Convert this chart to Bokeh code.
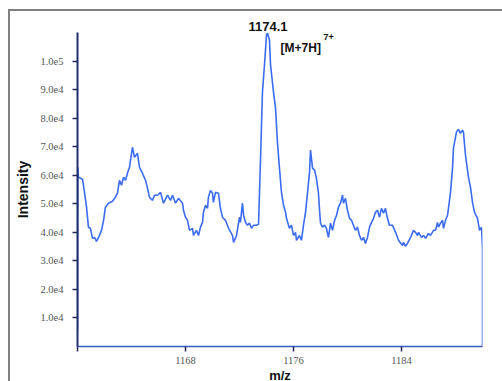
from bokeh.plotting import figure
from bokeh.models import Range1d, FixedTicker, Label
from bokeh.embed import file_html
from bokeh.resources import INLINE

# m/z values and intensities
mz = [1160.00, 1160.02, 1160.07, 1160.37, 1160.52, 1160.67, 1160.81, 1160.96, 1161.11, 1161.26,
      1161.41, 1161.56, 1161.78, 1161.93, 1162.07, 1162.30, 1162.59, 1162.81, 1162.96, 1163.11,
      1163.26, 1163.41, 1163.56, 1163.70, 1163.85, 1164.07, 1164.22, 1164.44, 1164.59, 1164.81,
      1165.04, 1165.19, 1165.33, 1165.56, 1165.70, 1165.93, 1166.15, 1166.37, 1166.67, 1166.89,
      1167.04, 1167.26, 1167.48, 1167.78, 1167.85, 1168.00, 1168.15, 1168.30, 1168.52, 1168.59,
      1168.81, 1168.96, 1169.11, 1169.26, 1169.33, 1169.48, 1169.63, 1169.70, 1169.85, 1170.00,
      1170.07, 1170.22, 1170.44, 1170.59, 1170.74, 1170.96, 1171.19, 1171.48, 1171.56, 1171.78,
      1172.00, 1172.07, 1172.22, 1172.30, 1172.44, 1172.59, 1172.74, 1172.89, 1173.04, 1173.26,
      1173.41, 1173.56, 1173.70, 1173.85, 1174.00, 1174.07, 1174.22, 1174.30, 1174.52, 1174.67,
      1174.81, 1174.96, 1175.11, 1175.26, 1175.41, 1175.48, 1175.70, 1175.85, 1176.00, 1176.15,
      1176.22, 1176.44, 1176.59, 1176.74, 1176.89, 1177.04, 1177.19, 1177.26, 1177.41, 1177.56,
      1177.70, 1177.85, 1177.93, 1178.00, 1178.15, 1178.30, 1178.44, 1178.59, 1178.74, 1178.89,
      1179.04, 1179.19, 1179.33, 1179.48, 1179.63, 1179.70, 1179.85, 1180.00, 1180.15, 1180.30,
      1180.44, 1180.59, 1180.74, 1180.89, 1181.04, 1181.19, 1181.33, 1181.48, 1181.63, 1181.78,
      1181.93, 1182.07, 1182.22, 1182.37, 1182.52, 1182.67, 1182.81, 1182.96, 1183.11, 1183.33,
      1183.56, 1183.78, 1184.07, 1184.15, 1184.30, 1184.44, 1184.67, 1184.89, 1185.04, 1185.19,
      1185.26, 1185.48, 1185.63, 1185.78, 1186.00, 1186.15, 1186.37, 1186.52, 1186.67, 1186.74,
      1186.89, 1187.04, 1187.11, 1187.26, 1187.41, 1187.48, 1187.63, 1187.78, 1187.85, 1188.07,
      1188.22, 1188.37, 1188.52, 1188.59, 1188.74, 1188.96, 1189.11, 1189.26, 1189.41, 1189.63,
      1189.78, 1189.93, 1190.00, 1190.00]
intensity = [5600, 62800, 59300, 58600, 54000, 48800, 41800, 41400, 37900, 38200,
             36800, 38200, 40700, 44200, 48800, 50200, 50900, 52300, 53700, 58200,
             56500, 59300, 58200, 60700, 62800, 69800, 66300, 67700, 62800, 60700,
             58200, 55400, 52300, 51200, 53000, 53000, 54000, 50200, 53000, 51200,
             53000, 50200, 51900, 50200, 47700, 45300, 44200, 40700, 41400, 38900,
             40700, 38900, 41800, 43500, 47000, 49500, 48400, 52300, 54700, 53700,
             50500, 54000, 53700, 48400, 45300, 44200, 41400, 38900, 36500, 38900,
             45300, 43500, 50200, 46000, 43500, 42500, 43200, 41400, 42500, 42500,
             42800, 66000, 89100, 98600, 109100, 109800, 107400, 98600, 89100, 83500,
             71600, 62500, 54000, 49500, 47000, 44900, 41400, 42500, 38900, 40000,
             37200, 38900, 37200, 42500, 47000, 54000, 61100, 68800, 62500, 61800,
             58900, 53700, 47700, 43200, 41800, 42500, 41400, 38200, 43200, 40700,
             44200, 46000, 48800, 50200, 53000, 50200, 51900, 47700, 44900, 44200,
             42500, 40700, 41800, 38900, 37200, 38200, 36100, 38200, 41800, 43500,
             44900, 47000, 47700, 45300, 48400, 46700, 48400, 44900, 42500, 42500,
             40000, 37200, 35400, 36500, 35100, 36100, 38200, 40700, 40000, 38900,
             40000, 38200, 38900, 37900, 39600, 38900, 40700, 40700, 43500, 41800,
             43200, 44200, 41400, 44200, 46000, 48400, 54000, 62500, 69500, 75100,
             76100, 74700, 75800, 75100, 67000, 59300, 55800, 50500, 47000, 44900,
             40700, 41800, 34400, 0]

y_ticks = [10000, 20000, 30000, 40000, 50000, 60000, 70000, 80000, 90000, 100000]
y_tick_labels = ["1.0e4", "2.0e4", "3.0e4", "4.0e4", "5.0e4", "6.0e4", "7.0e4", "8.0e4", "9.0e4", "1.0e5"]
x_ticks = [1160, 1168, 1176, 1184]
x_tick_labels = ["", "1168", "1176", "1184"]

peak_label = "1174.1"
ion_label = "[M+7H]"
charge_label = "7+"

p = figure(frame_width=405, frame_height=314,
           x_range=Range1d(1160, 1190), y_range=Range1d(0, 110000),
           output_backend="svg", toolbar_location=None,
           min_border_left=67, min_border_right=20, min_border_top=21, min_border_bottom=35)
p.styles = {"border-left": "2px solid #808080", "border-top": "2px solid #808080",
            "margin-left": "8px", "margin-top": "9px"}
p.background_fill_color = "white"
p.border_fill_color = "white"
p.outline_line_color = None
p.grid.visible = False

# peak annotation as the figure title, shifted over the peak
p.title.text = peak_label
p.title.align = "left"
p.title.offset = 171
p.title.standoff = 4
p.title.text_font = "Liberation Sans"
p.title.text_font_style = "bold"
p.title.text_font_size = "13px"
p.title.text_color = "#111111"

p.line(mz, intensity, line_color="#3b6cf0", line_width=1.6)

# axes
p.yaxis.ticker = FixedTicker(ticks=y_ticks)
p.yaxis.major_label_overrides = {t: l for t, l in zip(y_ticks, y_tick_labels)}
p.xaxis.ticker = FixedTicker(ticks=x_ticks)
p.xaxis.major_label_overrides = {t: l for t, l in zip(x_ticks, x_tick_labels)}
for ax in (p.xaxis[0], p.yaxis[0]):
    ax.minor_tick_line_color = None
    ax.major_tick_in = 0
    ax.major_tick_out = 5
    ax.major_tick_line_color = "#222a55"
    ax.major_tick_line_width = 1.5
    ax.major_label_text_font = "Liberation Serif"
    ax.major_label_text_font_size = "10.5px"
    ax.major_label_text_color = "#555555"
    ax.axis_label_text_font = "Liberation Sans"
    ax.axis_label_text_font_style = "bold"
    ax.axis_label_text_color = "#111111"
p.yaxis.axis_line_color = "#1e2c6e"
p.yaxis.axis_line_width = 2
p.xaxis.axis_line_color = "#3a5cc4"
p.xaxis.axis_line_width = 1.6
p.yaxis.axis_label = "Intensity"
p.yaxis.axis_label_text_font_size = "14px"
p.yaxis.major_label_standoff = 9
p.yaxis.axis_label_standoff = 6
p.xaxis.axis_label = "m/z"
p.xaxis.axis_label_text_font_size = "13px"
p.xaxis.major_label_standoff = 5
p.xaxis.axis_label_standoff = 1

p.add_layout(Label(x=1175.04, y=104700, text=ion_label, text_align="left",
                   text_baseline="alphabetic", text_font="Liberation Sans",
                   text_font_style="bold", text_font_size="12px", text_color="#111111"))
p.add_layout(Label(x=1178.22, y=108400, text=charge_label, text_align="left",
                   text_baseline="alphabetic", text_font="Liberation Sans",
                   text_font_style="bold", text_font_size="9px", text_color="#111111"))

open("out.html", "w").write(file_html(p, INLINE))
